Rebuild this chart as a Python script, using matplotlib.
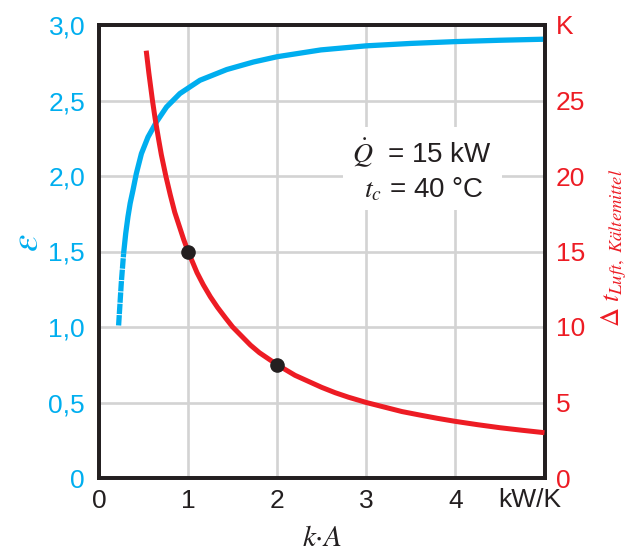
import matplotlib
matplotlib.use("Agg")
import matplotlib.pyplot as plt

plt.rcParams['font.family'] = ['Liberation Sans', 'DejaVu Sans']
plt.rcParams['mathtext.fontset'] = 'stix'
plt.rcParams['lines.scale_dashes'] = False

BLUE = '#00AEEF'
RED = '#ED1C24'
DARK = '#231F20'

# Data
ka_red = [0.53, 0.56, 0.6, 0.63, 0.67, 0.7, 0.75, 0.8, 0.85, 0.9, 0.95, 1.0, 1.05, 1.1, 1.17, 1.25, 1.33,
          1.42, 1.5, 1.6, 1.7, 1.8, 1.9, 2.0, 2.1, 2.2, 2.35, 2.5, 2.65, 2.8, 3.0, 3.2, 3.4, 3.6, 3.8,
          4.0, 4.25, 4.5, 4.75, 5.0]
dt_red = [28.3, 26.8, 25.0, 23.8, 22.4, 21.4, 20.0, 18.75, 17.6, 16.7, 15.8, 15.0, 14.3, 13.6, 12.8,
          12.0, 11.3, 10.6, 10.0, 9.4, 8.8, 8.3, 7.9, 7.5, 7.15, 6.8, 6.4, 6.0, 5.65, 5.35, 5.0, 4.7,
          4.4, 4.17, 3.95, 3.75, 3.53, 3.33, 3.16, 3.0]

ka_blue = [0.22, 0.25, 0.276, 0.30, 0.325, 0.35, 0.381, 0.419, 0.476, 0.55, 0.645, 0.758, 0.908, 1.133,
           1.434, 1.734, 2.0, 2.49, 3.0, 3.5, 4.0, 4.5, 5.0]
eps_blue = [1.01, 1.29, 1.486, 1.62, 1.73, 1.82, 1.905, 2.016, 2.148, 2.258, 2.358, 2.457, 2.546, 2.634,
            2.705, 2.755, 2.79, 2.835, 2.862, 2.878, 2.89, 2.899, 2.906]
n_dashed = 3  # lower part of the blue curve is drawn with tiny gaps

ka_pts = [1.0, 2.0]
dt_pts = [15.0, 7.5]

x_ticks = [0, 1, 2, 3, 4]
x_ticklabels = ['0', '1', '2', '3', '4']
y_left_ticks = [0, 0.5, 1.0, 1.5, 2.0, 2.5, 3.0]
y_left_labels = ['0', '0,5', '1,0', '1,5', '2,0', '2,5', '3,0']
y_right_ticks = [0, 5, 10, 15, 20, 25, 30]
y_right_labels = ['0', '5', '10', '15', '20', '25', 'K']

W, H = 629, 554
L, R, B, T = 99, 544.5, 478, 25
fig = plt.figure(figsize=(W / 100, H / 100), dpi=100)
ax = fig.add_axes([L / W, 1 - B / H, (R - L) / W, (B - T) / H])
ax.set_xlim(0, 5)
ax.set_ylim(0, 3)
ax2 = ax.twinx()
ax2.set_ylim(0, 30)

ax.set_xticks(x_ticks)
ax.set_yticks(y_left_ticks)
ax.grid(True, color='#D3D3D3', linewidth=1.9, zorder=0)
ax.set_axisbelow(True)

ax.set_xticklabels(x_ticklabels, fontsize=19, color=DARK)
ax.set_yticklabels(y_left_labels, fontsize=19, color=BLUE)
ax.tick_params(axis='x', length=0, pad=8)
ax.tick_params(axis='y', length=0, pad=10)
ax2.set_yticks(y_right_ticks)
ax2.set_yticklabels(y_right_labels, fontsize=19, color=RED)
ax2.tick_params(axis='y', length=0, pad=8)

for a in (ax, ax2):
    for s in a.spines.values():
        s.set_color(DARK)
        s.set_linewidth(2.7)

ax.text(4.84, -0.068, 'kW/K', fontsize=19, color=DARK, ha='center', va='top')

# blue curve
ax.plot(ka_blue[n_dashed - 1:], eps_blue[n_dashed - 1:], color=BLUE, lw=3.8,
        solid_capstyle='butt', solid_joinstyle='round', zorder=3)
ax.plot(ka_blue[:n_dashed], eps_blue[:n_dashed], color=BLUE, lw=3.8,
        dashes=(7.5, 0.7), dash_capstyle='butt', zorder=3)

# red curve on the right axis
ax2.plot(ka_red, dt_red, color=RED, lw=3.6, solid_capstyle='butt', solid_joinstyle='round', zorder=3)
ax2.plot(ka_pts, dt_pts, 'o', color=DARK, markersize=9.5, zorder=4)

# annotation
ax.text(3.63, 2.15, r'$\dot{Q}$  = 15 kW', fontsize=20, color=DARK, ha='center', va='center',
        bbox=dict(facecolor='white', edgecolor='none', pad=7), zorder=5)
ax.text(3.65, 1.91, r'$t_c$ = 40 °C', fontsize=20, color=DARK, ha='center', va='center',
        bbox=dict(facecolor='white', edgecolor='none', pad=5), zorder=5)

# axis labels
fig.text(28 / W, 1 - 243 / H, r'$\varepsilon$', fontsize=28, color=BLUE, rotation=90,
         ha='center', va='center')
fig.text(614 / W, 1 - 248 / H, r'$\mathit{\Delta}\ t_{Luft,\ Kältemittel}$', fontsize=19,
         color=RED, rotation=90, ha='center', va='center')
fig.text(322 / W, 1 - 538 / H, r'$k{\cdot}A$', fontsize=21, color=DARK, ha='center', va='center')

fig.savefig('out.png', dpi=100)
